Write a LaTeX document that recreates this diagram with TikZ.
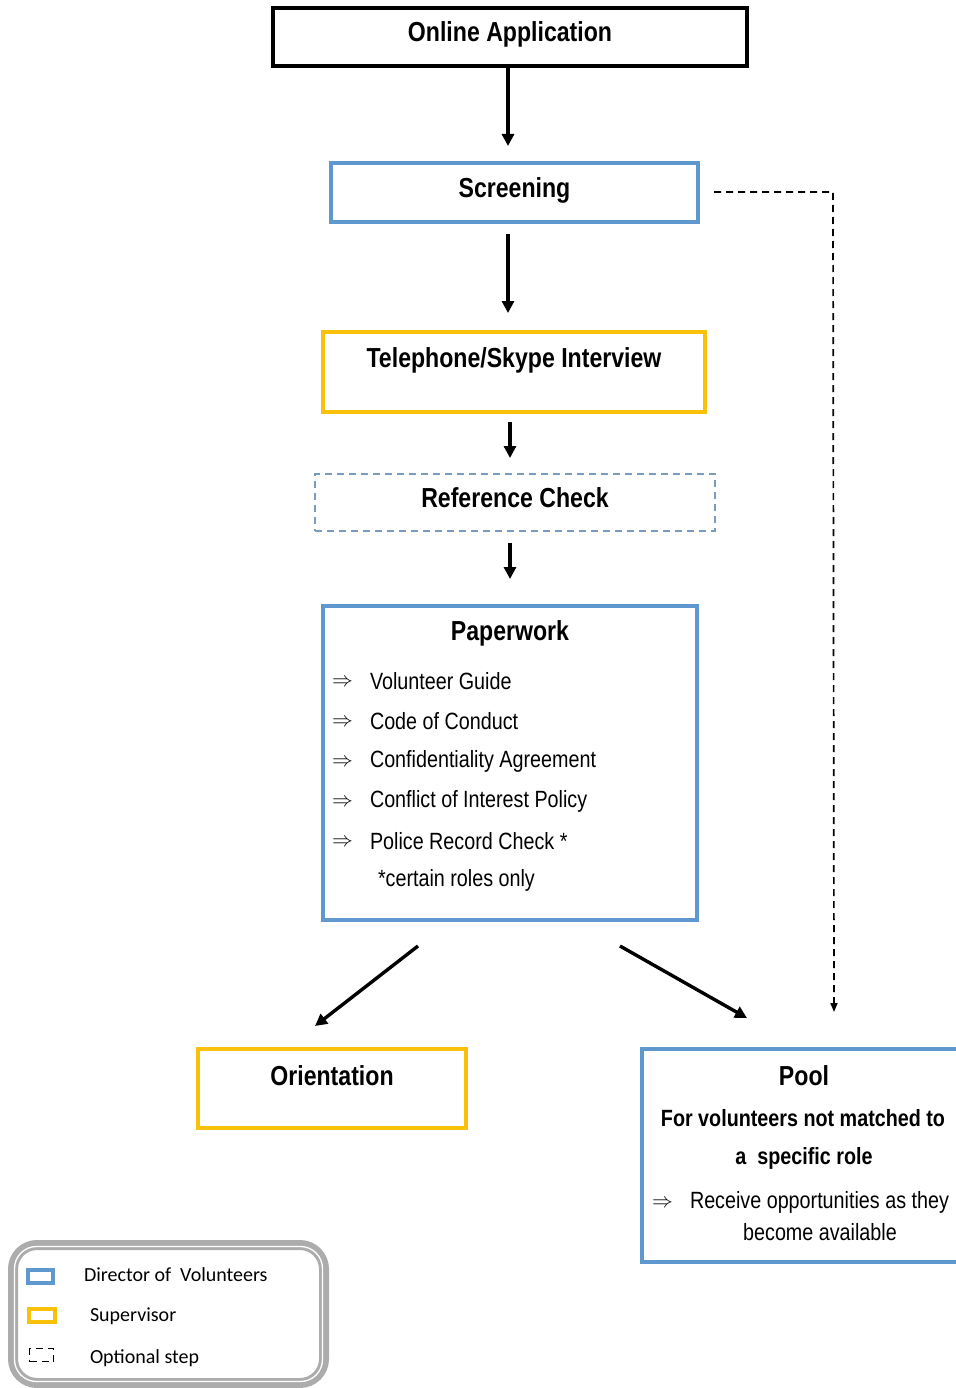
\documentclass[tikz,border=0pt]{standalone}
\usepackage{fontspec}
\setmainfont{Liberation Sans}[FakeStretch=0.84]
\newfontfamily\legendfont{Carlito}
\usetikzlibrary{arrows.meta}
\definecolor{dirblue}{RGB}{95,152,206}
\definecolor{supyel}{RGB}{250,193,10}
\definecolor{optblue}{RGB}{120,155,190}
\tikzset{
  every node/.style={inner sep=0pt, outer sep=0pt},
  boxblk/.style={draw=black, line width=3.5pt},
  boxblue/.style={draw=dirblue, line width=3.2pt},
  boxyel/.style={draw=supyel, line width=3.5pt},
  boxopt/.style={draw=optblue, line width=1.3pt, dash pattern=on 7pt off 5pt},
  ttl/.style={font=\fontsize{27.5}{32}\selectfont\bfseries},
  body/.style={font=\fontsize{23.5}{28}\selectfont, anchor=west},
  bodyb/.style={font=\fontsize{23.5}{28}\selectfont\bfseries},
  bul/.style={font=\fontsize{21}{24}\selectfont, anchor=west},
  flow/.style={line width=3.4pt, -{Triangle[length=12pt,width=12pt]}},
  optflow/.style={line width=1.7pt, dash pattern=on 7pt off 5pt, -{Triangle[length=9pt,width=7pt]}},
  leg/.style={font=\legendfont\fontsize{20}{24}\selectfont, anchor=west},
}
\begin{document}
\begin{tikzpicture}[x=1pt,y=-1pt]
\useasboundingbox (0,0) rectangle (955,1388);
\fill[white] (0,0) rectangle (955,1388);

% boxes
\node[boxblk, minimum width=474pt, minimum height=58pt] (online) at (510,37) {};
\node[ttl] (onlinet) at (510,34) {Online Application};

\node[boxblue, minimum width=367pt, minimum height=59pt] (scr) at (514.5,192.5) {};
\node[ttl] (scrt) at (514.5,190) {Screening};

\node[boxyel, minimum width=382pt, minimum height=80pt] (tel) at (514,372) {};
\node[ttl] (telt) at (514,360) {Telephone/Skype Interview};

\node[boxopt, minimum width=400pt, minimum height=57pt] (ref) at (515,502.5) {};
\node[ttl] (reft) at (515,498) {Reference Check};

\node[boxblue, minimum width=374pt, minimum height=314pt] (pap) at (510,763) {};
\node[ttl] (papt) at (510,633) {Paperwork};
\node[bul] (b1) at (332,683) {$\Rightarrow$};
\node[body] (i1) at (370,681) {Volunteer Guide};
\node[bul] (b2) at (332,723) {$\Rightarrow$};
\node[body] (i2) at (370,721) {Code of Conduct};
\node[bul] (b3) at (332,763) {$\Rightarrow$};
\node[body] (i3) at (370,761) {Confidentiality Agreement};
\node[bul] (b4) at (332,803) {$\Rightarrow$};
\node[body] (i4) at (370,801) {Conflict of Interest Policy};
\node[bul] (b5) at (332,843) {$\Rightarrow$};
\node[body] (i5) at (370,841) {Police Record Check *};
\node[body] (i6) at (378,880) {*certain roles only};

\node[boxyel, minimum width=268pt, minimum height=79pt] (ori) at (332,1088.5) {};
\node[ttl] (orit) at (332,1076) {Orientation};

\node[boxblue, minimum width=340pt, minimum height=213pt] (pool) at (812,1155.5) {};
\node[ttl] (poolt) at (804,1076) {Pool};
\node[bodyb] (p1) at (803,1118) {For volunteers not matched to};
\node[bodyb] (p2) at (804,1158) {a\ \ specific role};
\node[bul] (pb) at (652,1204) {$\Rightarrow$};
\node[body] (p3) at (690,1202) {Receive opportunities as they};
\node[font=\fontsize{23.5}{28}\selectfont] (p4) at (820,1232) {become available};

% connectors
\coordinate (a1e) at (508,146);
\coordinate (a2s) at (508,234);
\coordinate (a2e) at (508,313);
\coordinate (a3s) at (510,422);
\coordinate (a3e) at (510,458);
\coordinate (a4s) at (510,543);
\coordinate (a4e) at (510,579);
\draw[flow] (online.south -| a1e) -- (a1e);
\draw[flow] (a2s) -- (a2e);
\draw[flow] (a3s) -- (a3e);
\draw[flow] (a4s) -- (a4e);
\coordinate (dl1) at (418,946);
\coordinate (dl2) at (315,1026);
\coordinate (dr1) at (620,946);
\coordinate (dr2) at (747,1018);
\draw[flow] (dl1) -- (dl2);
\draw[flow] (dr1) -- (dr2);
\coordinate (ds) at (714,192);
\coordinate (dc) at (833,192);
\coordinate (de) at (834,1012);
\draw[optflow] (ds) -- (dc) -- (de);

% legend
\draw[gray!65, line width=10pt, rounded corners=24pt] (13,1245) rectangle (324,1383);
\draw[white, line width=1.3pt, rounded corners=22pt] (14.5,1246.5) rectangle (322.5,1381.5);
\node[draw=dirblue, line width=4pt, minimum width=25pt, minimum height=13pt] (l1) at (40,1276) {};
\node[leg] (l1t) at (84,1275) {Director of\ \ Volunteers};
\node[draw=supyel, line width=4pt, minimum width=26pt, minimum height=13pt] (l2) at (41.5,1315.5) {};
\node[leg] (l2t) at (90,1316) {Supervisor};
\node[draw=black, line width=1.8pt, dash pattern=on 7pt off 5pt, minimum width=24pt, minimum height=13pt] (l3) at (41.5,1355) {};
\node[leg] (l3t) at (90,1358) {Optional step};
\end{tikzpicture}
\end{document}
